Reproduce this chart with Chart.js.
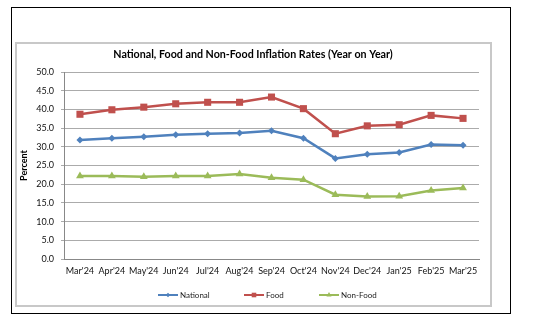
<!DOCTYPE html>
<html>
<head>
<meta charset="utf-8">
<script src="https://cdn.jsdelivr.net/npm/chart.js@4/dist/chart.umd.min.js"></script>
<style>
  html, body { margin: 0; padding: 0; background: #fff; }
  body { width: 553px; height: 321px; position: relative; overflow: hidden; }
  #outer { position: absolute; left: 11px; top: 7px; width: 500px; height: 307px; border: 1px solid #000; box-sizing: border-box; }
  #inner { position: absolute; left: 15px; top: 42px; width: 477px; height: 265px; border: 2px solid #c8c8c8; box-sizing: border-box; }
  #wrap { position: absolute; left: 15px; top: 42px; width: 476px; height: 264px; }
</style>
</head>
<body>
<div id="outer"></div>
<div id="inner"></div>
<div id="wrap"><canvas id="c" width="476" height="264"></canvas></div>
<script>
const categories = ["Mar'24","Apr'24","May'24","Jun'24","Jul'24","Aug'24","Sep'24","Oct'24","Nov'24","Dec'24","Jan'25","Feb'25","Mar'25"];
const national = [31.8, 32.3, 32.7, 33.2, 33.5, 33.7, 34.3, 32.3, 26.9, 28.0, 28.5, 30.6, 30.4];
const food     = [38.7, 39.9, 40.6, 41.5, 41.9, 41.9, 43.3, 40.2, 33.5, 35.6, 35.9, 38.4, 37.6];
const nonFood  = [22.2, 22.2, 22.0, 22.2, 22.2, 22.7, 21.7, 21.2, 17.2, 16.7, 16.8, 18.3, 19.0];
const seriesNames = ["National", "Food", "Non-Food"];
const chartTitle = "National, Food and Non-Food Inflation Rates (Year on Year)";
const yTitle = "Percent";

const FONT = "Lato, 'Open Sans', sans-serif";
const colors = ["#4F81BD", "#C0504D", "#9BBB59"];
const styles = ["rectRot", "rect", "triangle"];
const radii = [3.5, 5, 4.5];

const titlePlugin = {
  id: 'customTitle',
  afterDraw(chart) {
    const ctx = chart.ctx;
    ctx.save();
    ctx.font = "bold 10.7px " + FONT;
    ctx.fillStyle = "#000";
    ctx.textAlign = "center";
    ctx.textBaseline = "middle";
    ctx.fillText(chartTitle, chart.width / 2, 13);
    ctx.restore();
  }
};

const legendPlugin = {
  id: 'customLegend',
  afterDraw(chart) {
    const ctx = chart.ctx;
    ctx.save();
    ctx.font = "8px " + FONT;
    ctx.textBaseline = "middle";
    ctx.textAlign = "left";
    const y = 253;
    const starts = [143, 229, 304];
    chart.data.datasets.forEach((ds, i) => {
      const x0 = starts[i];
      ctx.strokeStyle = ds.borderColor;
      ctx.lineWidth = 2;
      ctx.beginPath();
      ctx.moveTo(x0, y);
      ctx.lineTo(x0 + 20, y);
      ctx.stroke();
      ctx.fillStyle = ds.borderColor;
      Chart.helpers.drawPoint(ctx, { pointStyle: ds.pointStyle, radius: ds.pointRadius * 0.65, rotation: 0, borderWidth: 0 }, x0 + 10, y);
      ctx.fillStyle = "#222";
      ctx.fillText(ds.label, x0 + 22, y + 0.5);
    });
    ctx.restore();
  }
};

new Chart(document.getElementById('c'), {
  type: 'line',
  data: {
    labels: categories,
    datasets: [national, food, nonFood].map((d, i) => ({
      label: seriesNames[i],
      data: d,
      borderColor: colors[i],
      backgroundColor: colors[i],
      pointBackgroundColor: colors[i],
      pointBorderColor: colors[i],
      pointStyle: styles[i],
      pointRadius: radii[i],
      pointBorderWidth: 0,
      borderWidth: 2.5,
      tension: 0,
      fill: false
    }))
  },
  options: {
    responsive: false,
    animation: false,
    devicePixelRatio: 1,
    layout: { padding: { top: 30, left: 0, right: 12, bottom: 0 } },
    plugins: {
      legend: { display: false },
      title: { display: false },
      tooltip: { enabled: false }
    },
    scales: {
      x: {
        offset: true,
        grid: { display: false, drawTicks: false },
        border: { display: true, color: '#888', width: 1 },
        ticks: { color: '#111', font: { family: FONT, size: 9 }, padding: 7, maxRotation: 0, autoSkip: false },
        afterFit(scale) { scale.height = 47; }
      },
      y: {
        min: 0, max: 50,
        ticks: { stepSize: 5, color: '#111', font: { family: FONT, size: 9 }, padding: 7,
                 callback: v => Number(v).toFixed(1) },
        grid: { color: '#ababab', lineWidth: 1, tickLength: 3, drawTicks: true },
        border: { display: true, color: '#888', width: 1 },
        title: { display: true, text: yTitle, color: '#000', font: { family: FONT, size: 9, weight: 'bold' }, padding: { top: 4, bottom: 0 } },
        afterFit(scale) { scale.width = 49; }
      }
    }
  },
  plugins: [titlePlugin, legendPlugin]
});
</script>
</body>
</html>
